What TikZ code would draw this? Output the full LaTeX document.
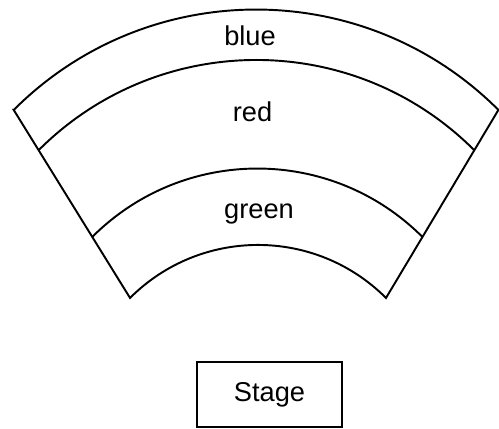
\documentclass[tikz,border=0pt]{standalone}
\usepackage{fontspec}
\setmainfont{Liberation Sans}
\usepackage{tikz}
\usetikzlibrary{calc}

\begin{document}
\begin{tikzpicture}[scale = 0.02, line width = 1.1pt, font = \fontsize{15.5}{18}\selectfont]
	\useasboundingbox (0,0) rectangle (499,429);

	\def\Rout{342.7};
	\def\Rrb{308};
	\def\Rgr{233.4};
	\def\Rin{181};

	\begin{scope}
		\coordinate (outL) at (13.7,319);
		\coordinate (outR) at (498.3,319);
		\coordinate (inL) at (130,131);
		\draw (outL) -- (inL) arc [start angle = 135, end angle = 45, radius = \Rin] -- (outR) arc [start angle = 45, end angle = 135, radius = \Rout] -- cycle;
	\end{scope}

	\begin{scope}
		\coordinate (rbL) at ($(outL)!0.2144!(inL)$);
		\coordinate (grL) at ($(outL)!0.6755!(inL)$);
		\draw (rbL) arc [start angle = 135, end angle = 45, radius = \Rrb];
		\draw (grL) arc [start angle = 135, end angle = 45, radius = \Rgr];
	\end{scope}

	\begin{scope}
		\node (blue) [anchor = base] at (250,383.3) {blue};
		\node (red) [anchor = base] at (252.5,307.3) {red};
		\node (green) [anchor = base] at (259,210) {green};
		\node (stage) [draw, minimum width = 2.912cm, minimum height = 1.312cm] at (269.5,34.5) {Stage};
	\end{scope}
\end{tikzpicture}
\end{document}
